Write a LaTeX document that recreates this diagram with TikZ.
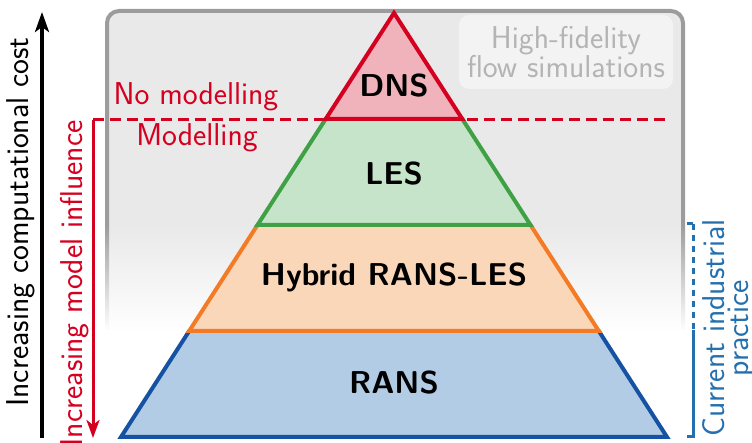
\documentclass[tikz,border=0pt]{standalone}
\usepackage{tikz}
\usetikzlibrary{arrows.meta,fadings}

\definecolor{modred}{HTML}{D5001F}
\definecolor{dnsfill}{HTML}{F0B3BB}
\definecolor{lesgreen}{HTML}{3FA046}
\definecolor{lesfill}{HTML}{C6E4C9}
\definecolor{hybridorange}{HTML}{F47B25}
\definecolor{hybridfill}{HTML}{FBD7BA}
\definecolor{ransblue}{HTML}{1652A3}
\definecolor{ransfill}{HTML}{B2CCE5}
\definecolor{industblue}{HTML}{2470AE}
\definecolor{boxgray}{HTML}{E9E9E9}
\definecolor{bordergray}{HTML}{9C9C9C}
\definecolor{hififill}{HTML}{F3F3F3}
\definecolor{hifitext}{HTML}{B4B4B4}

\newcommand{\figfont}{\fontsize{15.8}{18}\selectfont\sffamily}
\tikzfading[name=fadebottom, top color=transparent!100, bottom color=transparent!0]

\begin{document}
\begin{tikzpicture}[x=.5pt,y=-.5pt,font=\figfont,
    layer/.style={line width=2pt},
    lbl/.style={font=\figfont\bfseries},
    side/.style={inner sep=0pt,rotate=90}]
  \useasboundingbox (0,0) rectangle (752,443);

  % background box, faded out at the bottom
  \fill[boxgray,rounded corners=6pt] (107,11) rectangle (683,445);
  \draw[bordergray,line width=2pt,rounded corners=6pt] (107,445) -- (107,11) -- (683,11) -- (683,445);
  \fill[white,path fading=fadebottom] (100,224) rectangle (690,331);
  \fill[white] (100,330) rectangle (690,450);

  \node[fill=hififill,rounded corners=5pt,text=hifitext,align=center,
        font=\fontsize{15.8}{14.5}\selectfont\sffamily,minimum width=107pt,minimum height=37pt] (hifi) at (566,52) {High-fidelity\\flow simulations};

  % modelling limit
  \coordinate (infl-top) at (93,120);
  \coordinate (infl-bot) at (93,438);
  \coordinate (limit-end) at (665,120);
  \draw[modred,line width=1.5pt,dash pattern=on 5.5pt off 3pt] (infl-top) -- (limit-end);
  \draw[modred] (196,97) node (nomod) {No modelling};
  \draw[modred] (197,138) node (mod) {Modelling};

  % RANS
  \filldraw[layer,draw=ransblue,fill=ransfill] (121,437) -- (667,437) -- (598.8,331) -- (189.2,331) -- cycle;
  \node[lbl] (rans) at (394,383) {RANS};

  % Hybrid
  \filldraw[layer,draw=hybridorange,fill=hybridfill] (189.2,331) -- (598.8,331) -- (530.5,225) -- (257.5,225) -- cycle;
  \node[lbl] (hybrid) at (394,277) {Hybrid RANS-LES};

  % LES
  \filldraw[layer,draw=lesgreen,fill=lesfill] (257.5,225) -- (530.5,225) -- (462.3,119) -- (325.7,119) -- cycle;
  \node[lbl] (les) at (394,174) {LES};

  % DNS
  \filldraw[layer,draw=modred,fill=dnsfill] (325.7,119) -- (462.3,119) -- (394,13) -- cycle;
  \node[lbl] (dns) at (394,86) {DNS};

  % cost arrow
  \coordinate (cost-bot) at (42,438);
  \coordinate (cost-top) at (42,12);
  \draw[line width=1.75pt,-{Stealth[length=10pt,width=7pt,inset=2.5pt]}] (cost-bot) -- (cost-top);
  \node[side] (cost) at (21,222) {Increasing computational cost};

  % model influence arrow
  \draw[modred,line width=1.5pt,-{Stealth[length=9pt,width=6.5pt,inset=2.5pt]}] (infl-top) -- (infl-bot);
  \node[side,modred,anchor=east] (infl) at (75,120) {Increasing model influence};

  % industrial practice bracket
  \coordinate (ind-a) at (687,224);
  \coordinate (ind-b) at (693,224);
  \coordinate (ind-c) at (693,330);
  \coordinate (ind-d) at (693,437);
  \coordinate (ind-e) at (687,437);
  \draw[industblue,line width=1.5pt] (ind-a) -- (ind-b);
  \draw[industblue,line width=1.5pt,dash pattern=on 3pt off 2.5pt] (ind-b) -- (ind-c);
  \draw[industblue,line width=1.5pt] (ind-c) -- (ind-d) -- (ind-e);
  \node[side,industblue,align=center,font=\fontsize{15.8}{12}\selectfont\sffamily] (ind) at (729,328) {Current industrial\\practice};
\end{tikzpicture}
\end{document}
